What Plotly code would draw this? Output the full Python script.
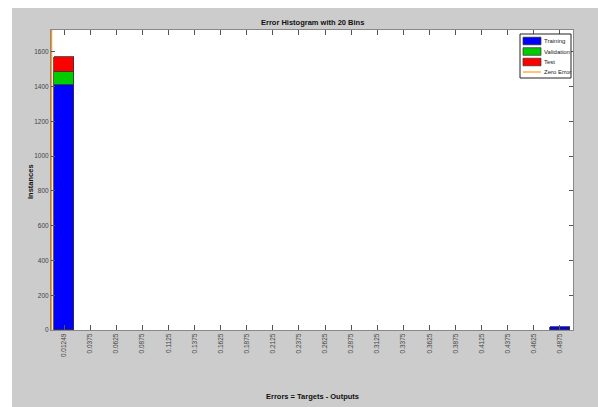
import plotly.graph_objects as go

# Error histogram (20 bins): bin centres, tick labels and instance counts per split
bin_centers = [0.0125, 0.0375, 0.0625, 0.0875, 0.1125, 0.1375, 0.1625, 0.1875,
               0.2125, 0.2375, 0.2625, 0.2875, 0.3125, 0.3375, 0.3625, 0.3875,
               0.4125, 0.4375, 0.4625, 0.4875]
tick_labels = ["0.01249", "0.0375", "0.0625", "0.0875", "0.1125", "0.1375", "0.1625",
               "0.1875", "0.2125", "0.2375", "0.2625", "0.2875", "0.3125", "0.3375",
               "0.3625", "0.3875", "0.4125", "0.4375", "0.4625", "0.4875"]
training = [1408, 0, 0, 0, 0, 0, 0, 0, 0, 0, 0, 0, 0, 0, 0, 0, 0, 0, 0, 15]
validation = [78, 0, 0, 0, 0, 0, 0, 0, 0, 0, 0, 0, 0, 0, 0, 0, 0, 0, 0, 0]
test = [84, 0, 0, 0, 0, 0, 0, 0, 0, 0, 0, 0, 0, 0, 0, 0, 0, 0, 0, 0]
series_names = ["Training", "Validation", "Test"]
series_colors = ["#0000ff", "#00cc00", "#ff0000"]
zero_error = 0.0
zero_color = "#ff9a1a"
y_max = 1725

W, H = 598, 407
L, R, T, B = 51, 25, 30, 77
PW, PH = W - L - R, H - T - B
FONT = "Liberation Sans, Arial"
bar_w = 0.8 * (bin_centers[1] - bin_centers[0])


def px(x):
    return (x - L) / PW


def py(y):
    return (H - B - y) / PH


fig = go.Figure()
for name, vals, col in zip(series_names, [training, validation, test], series_colors):
    # empty bins are left out so no outline is drawn at zero
    shown = [v if v else None for v in vals]
    fig.add_trace(go.Bar(x=bin_centers, y=shown, name=name, width=bar_w,
                         marker=dict(color=col, line=dict(color="#333333", width=0.8))))

fig.add_trace(go.Scatter(x=[zero_error, zero_error], y=[0, y_max], mode="lines",
                         name="Zero Error", line=dict(color=zero_color, width=2.5),
                         cliponaxis=False))

shapes = [
    # white strips left of / above the grey figure window
    dict(type="rect", xref="paper", yref="paper", x0=px(0), x1=px(12), y0=py(H), y1=py(0),
         fillcolor="white", line=dict(width=0), layer="below"),
    dict(type="rect", xref="paper", yref="paper", x0=px(0), x1=px(W), y0=py(8), y1=py(0),
         fillcolor="white", line=dict(width=0), layer="below"),
    # legend box
    dict(type="rect", xref="paper", yref="paper", x0=px(520), x1=px(571), y0=py(78), y1=py(34),
         fillcolor="white", line=dict(color="#222222", width=1)),
]
annotations = []
legend_rows = [41, 51.5, 62, 72]
for name, col, yc in zip(series_names, series_colors, legend_rows[:3]):
    shapes.append(dict(type="rect", xref="paper", yref="paper", x0=px(523), x1=px(541),
                       y0=py(yc + 3.8), y1=py(yc - 3.8), fillcolor=col,
                       line=dict(color="#333333", width=0.7)))
    annotations.append(dict(text=name, xref="paper", yref="paper", x=px(542), y=py(yc),
                            xanchor="left", yanchor="middle", showarrow=False,
                            font=dict(family=FONT, size=6, color="#222222")))
shapes.append(dict(type="line", xref="paper", yref="paper", x0=px(523), x1=px(541),
                   y0=py(legend_rows[3]), y1=py(legend_rows[3]),
                   line=dict(color=zero_color, width=1.2)))
annotations.append(dict(text="Zero Error", xref="paper", yref="paper", x=px(542),
                        y=py(legend_rows[3]), xanchor="left", yanchor="middle",
                        showarrow=False, font=dict(family=FONT, size=6, color="#222222")))

annotations += [
    dict(text="<b>Error Histogram with 20 Bins</b>", xref="paper", yref="paper",
         x=0.5, y=py(22), xanchor="center", yanchor="middle", showarrow=False,
         font=dict(family=FONT, size=7.5, color="#111111")),
    dict(text="<b>Errors = Targets - Outputs</b>", xref="paper", yref="paper",
         x=0.5, y=py(396), xanchor="center", yanchor="middle", showarrow=False,
         font=dict(family=FONT, size=7.5, color="#111111")),
    dict(text="<b>Instances</b>", xref="paper", yref="paper", textangle=-90,
         x=px(31), y=py(182), xanchor="center", yanchor="middle",
         showarrow=False, font=dict(family=FONT, size=7.5, color="#111111")),
]

fig.update_layout(
    width=W, height=H,
    margin=dict(l=L, r=R, t=T, b=B),
    paper_bgcolor="#cccccc", plot_bgcolor="white",
    barmode="stack", bargap=0,
    font=dict(family=FONT, size=7, color="#333333"),
    showlegend=False,
    shapes=shapes,
    annotations=annotations,
)

fig.update_xaxes(range=[0, 0.5], tickvals=bin_centers, ticktext=tick_labels,
                 tickangle=-90, ticks="inside", ticklen=5, tickcolor="#555555",
                 showline=True, linecolor="#888888", linewidth=1, mirror="ticks",
                 showgrid=False, zeroline=False, tickfont=dict(size=6.5, color="#444444"))
fig.update_yaxes(range=[0, y_max], tickvals=[0, 200, 400, 600, 800, 1000, 1200, 1400, 1600],
                 ticks="inside", ticklen=4, tickcolor="#555555",
                 showline=True, linecolor="#888888", linewidth=1, mirror="ticks",
                 showgrid=False, zeroline=False, tickfont=dict(size=6.5, color="#444444"))

fig.write_html("out.html")
